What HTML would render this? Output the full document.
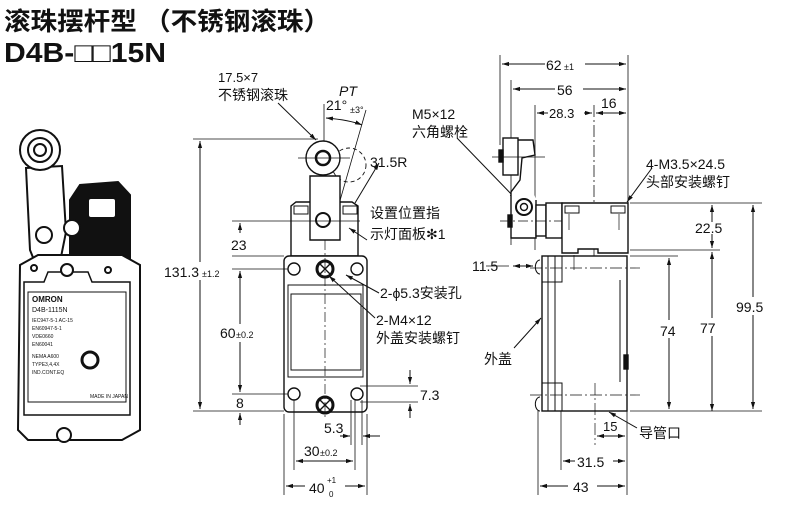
<!DOCTYPE html>
<html><head><meta charset="utf-8"><style>
html,body{margin:0;padding:0;background:#fff}
svg{display:block}
text{font-family:"Liberation Sans","Noto Sans CJK SC",sans-serif;fill:#111}
</style></head><body>
<svg width="800" height="510" viewBox="0 0 800 510" xmlns="http://www.w3.org/2000/svg">
<defs>
<marker id="a" viewBox="0 0 10 10" refX="10" refY="5" markerWidth="7" markerHeight="7" orient="auto-start-reverse"><path d="M0,2 L10,5 L0,8z" fill="#111"/></marker>
</defs>
<text x="4" y="30" font-size="25" font-weight="bold" textLength="326" lengthAdjust="spacingAndGlyphs">滚珠摆杆型 （不锈钢滚珠）</text>
<text x="4" y="62" font-size="28" font-weight="bold" textLength="162" lengthAdjust="spacingAndGlyphs">D4B-□□15N</text>

<!-- photo -->
<g stroke="#111" stroke-width="2" fill="#fff">
<path d="M70 200 L80 185 L118 182 L130 195 L130 262 L70 262 Z" fill="#111"/>
<rect x="88" y="198" width="28" height="20" rx="3"/>
<path d="M26 168 L62 166 L66 232 L60 262 L38 270 L30 250 Z"/>
<circle cx="40" cy="150" r="20"/><circle cx="40" cy="150" r="12"/><circle cx="40" cy="150" r="6"/>
<circle cx="44" cy="235" r="8"/>
<circle cx="72" cy="228" r="8"/>
<path d="M20 265 L38 255 L122 255 L140 265 L140 430 L122 440 L28 440 L18 430 Z"/>
<path d="M24 282 L44 282 L48 272 L88 272 L92 282 L130 282 L130 415 L24 415 Z" stroke-width="1.5"/>
<rect x="28" y="292" width="98" height="110" stroke-width="1"/>
<circle cx="90" cy="360" r="8" stroke-width="3"/>
<circle cx="67" cy="270" r="6"/><circle cx="34" cy="268" r="3"/><circle cx="108" cy="270" r="3"/>
<circle cx="64" cy="435" r="7"/>
</g>
<g font-size="5" fill="#111"><text x="32" y="302" font-size="8" font-weight="bold">OMRON</text><text x="32" y="312" font-size="7">D4B-1115N</text>
<text x="32" y="322">IEC947-5-1 AC-15</text><text x="32" y="330">EN60947-5-1</text><text x="32" y="338">VDE0660</text><text x="32" y="346">EN60041</text><text x="32" y="358">NEMA A600</text><text x="32" y="366">TYPE3,4,4X</text><text x="32" y="374">IND.CONT.EQ</text><text x="90" y="398">MADE IN JAPAN</text></g>

<!-- front view -->
<g stroke="#111" fill="none" stroke-width="1.4">
<text x="218" y="82" font-size="13" stroke="none">17.5×7</text>
<text x="218" y="100" font-size="14" stroke="none">不锈钢滚珠</text>
<line x1="278" y1="103" x2="316" y2="140" stroke-width="1" marker-end="url(#a)"/>
<text x="339" y="96" font-size="14" stroke="none" font-style="italic">PT</text>
<text x="326" y="110" font-size="14" stroke="none">21°</text><text x="350" y="113" font-size="9" stroke="none">±3°</text>
<path d="M326 118 Q350 120 362 125" stroke-width="1" marker-start="url(#a)" marker-end="url(#a)"/>
<line x1="324" y1="104" x2="324" y2="250" stroke-width=".8"/>
<line x1="366" y1="110" x2="333" y2="225" stroke-width=".8"/>
<circle cx="349" cy="165" r="17" stroke-dasharray="4 3" stroke-width=".9"/>
<line x1="355" y1="203" x2="379" y2="163" stroke-width="1" marker-end="url(#a)"/>
<text x="370" y="167" font-size="14" stroke="none">31.5R</text>
<path d="M296 202 L316 202 L316 237 L332 237 L332 202 L352 202 L358 206 L358 256 L291 256 L291 206 Z" fill="#fff"/>
<rect x="294" y="206" width="14" height="8" stroke-width="1"/><rect x="343" y="206" width="14" height="8" stroke-width="1"/>
<path d="M310 176 L310 240 L340 240 L340 176 Z" fill="#fff"/>
<circle cx="323" cy="158" r="17" fill="#fff"/><circle cx="323" cy="158" r="7" stroke-width="2.5"/>
<circle cx="323" cy="220" r="7" stroke-width="2"/>
<line x1="298" y1="158" x2="350" y2="158" stroke-width=".7"/>
<line x1="286" y1="221" x2="360" y2="221" stroke-width=".7"/>
<line x1="349" y1="228" x2="367" y2="240" stroke-width="1" marker-start="url(#a)"/>
<text x="370" y="218" font-size="14" stroke="none">设置位置指</text>
<text x="370" y="239" font-size="14" stroke="none">示灯面板✻1</text>
<!-- body -->
<rect x="284" y="256" width="83" height="156" rx="5" fill="#fff"/>
<path d="M288 285 L363 285 L363 377 L288 377 Z" stroke-width="1"/>
<rect x="291" y="294" width="70" height="76" stroke-width="1"/>
<circle cx="294" cy="269" r="6"/><circle cx="357" cy="269" r="6"/>
<circle cx="294" cy="394" r="6"/><circle cx="357" cy="394" r="6"/>
<circle cx="325" cy="269" r="8" stroke-width="3"/><circle cx="325" cy="405" r="8" stroke-width="3"/>
<path d="M320 264 L330 274 M330 264 L320 274 M320 400 L330 410 M330 400 L320 410"/>
<line x1="325" y1="240" x2="325" y2="420" stroke-width=".7" stroke-dasharray="10 3 2 3"/>
<line x1="346" y1="275" x2="379" y2="293" stroke-width="1" marker-start="url(#a)"/>
<text x="380" y="298" font-size="14" stroke="none">2-ϕ5.3安装孔</text>
<line x1="329" y1="276" x2="375" y2="318" stroke-width="1" marker-start="url(#a)"/>
<text x="376" y="325" font-size="14" stroke="none">2-M4×12</text>
<text x="376" y="343" font-size="14" stroke="none">外盖安装螺钉</text>
<!-- dims left -->
<line x1="193" y1="139" x2="318" y2="139" stroke-width=".8"/>
<line x1="193" y1="411" x2="284" y2="411" stroke-width=".8"/>
<line x1="200" y1="141" x2="200" y2="409" stroke-width="1" marker-start="url(#a)" marker-end="url(#a)"/>
<rect x="162" y="262" width="70" height="18" fill="#fff" stroke="none"/>
<text x="164" y="277" font-size="14" stroke="none">131.3</text><text x="202" y="277" font-size="9" stroke="none">±1.2</text>
<line x1="232" y1="221" x2="286" y2="221" stroke-width=".8"/>
<line x1="232" y1="256" x2="284" y2="256" stroke-width=".8"/>
<line x1="232" y1="269" x2="288" y2="269" stroke-width=".8"/>
<line x1="232" y1="394" x2="288" y2="394" stroke-width=".8"/>
<line x1="240" y1="233" x2="240" y2="223" stroke-width="1" marker-end="url(#a)"/>
<text x="231" y="250" font-size="14" stroke="none">23</text>
<line x1="240" y1="271" x2="240" y2="392" stroke-width="1" marker-start="url(#a)" marker-end="url(#a)"/>
<rect x="218" y="324" width="44" height="18" fill="#fff" stroke="none"/>
<text x="220" y="338" font-size="14" stroke="none">60</text><text x="236" y="338" font-size="9" stroke="none">±0.2</text>
<text x="236" y="408" font-size="14" stroke="none">8</text>
<line x1="240" y1="425" x2="240" y2="413" stroke-width="1" marker-end="url(#a)"/>
<!-- dims bottom -->
<line x1="284" y1="414" x2="284" y2="495" stroke-width=".8"/><line x1="367" y1="414" x2="367" y2="495" stroke-width=".8"/>
<line x1="294" y1="400" x2="294" y2="470" stroke-width=".8"/><line x1="355" y1="400" x2="355" y2="470" stroke-width=".8"/>
<line x1="351" y1="400" x2="351" y2="445" stroke-width=".8"/><line x1="362" y1="400" x2="362" y2="445" stroke-width=".8"/>
<line x1="296" y1="461" x2="353" y2="461" stroke-width="1" marker-start="url(#a)" marker-end="url(#a)"/>
<text x="304" y="456" font-size="14" stroke="none">30</text><text x="320" y="456" font-size="9" stroke="none">±0.2</text>
<line x1="340" y1="436" x2="350" y2="436" stroke-width="1" marker-end="url(#a)"/>
<line x1="380" y1="436" x2="363" y2="436" stroke-width="1" marker-end="url(#a)"/>
<text x="324" y="433" font-size="14" stroke="none">5.3</text>
<line x1="286" y1="486" x2="305" y2="486" stroke-width="1" marker-start="url(#a)"/>
<line x1="345" y1="486" x2="365" y2="486" stroke-width="1" marker-end="url(#a)"/>
<text x="309" y="493" font-size="14" stroke="none">40</text><text x="327" y="483" font-size="8" stroke="none">+1</text><text x="329" y="497" font-size="8" stroke="none">0</text>
<line x1="360" y1="386" x2="418" y2="386" stroke-width=".8"/><line x1="360" y1="402" x2="418" y2="402" stroke-width=".8"/>
<line x1="410" y1="370" x2="410" y2="384" stroke-width="1" marker-end="url(#a)"/>
<line x1="410" y1="418" x2="410" y2="404" stroke-width="1" marker-end="url(#a)"/>
<text x="420" y="400" font-size="14" stroke="none">7.3</text>

<!-- side view -->
<line x1="500" y1="55" x2="500" y2="145" stroke-width=".8"/>
<line x1="511" y1="80" x2="511" y2="245" stroke-width=".8"/>
<line x1="535" y1="105" x2="535" y2="250" stroke-width=".8"/>
<line x1="594" y1="105" x2="594" y2="280" stroke-width=".8" stroke-dasharray="12 3 2 3"/>
<line x1="628" y1="55" x2="628" y2="203" stroke-width=".8"/>
<line x1="502" y1="64" x2="545" y2="64" stroke-width="1" marker-start="url(#a)"/>
<line x1="585" y1="64" x2="626" y2="64" stroke-width="1" marker-end="url(#a)"/>
<text x="546" y="70" font-size="14" stroke="none">62</text><text x="564" y="70" font-size="9" stroke="none">±1</text>
<line x1="513" y1="89" x2="555" y2="89" stroke-width="1" marker-start="url(#a)"/>
<line x1="583" y1="89" x2="626" y2="89" stroke-width="1" marker-end="url(#a)"/>
<text x="557" y="95" font-size="14" stroke="none">56</text>
<line x1="537" y1="113" x2="548" y2="113" stroke-width="1" marker-start="url(#a)"/>
<line x1="584" y1="113" x2="592" y2="113" stroke-width="1" marker-end="url(#a)"/>
<text x="549" y="118" font-size="13" stroke="none">28.3</text>
<line x1="596" y1="113" x2="626" y2="113" stroke-width="1" marker-start="url(#a)" marker-end="url(#a)"/>
<text x="601" y="108" font-size="14" stroke="none">16</text>
<text x="412" y="119" font-size="14" stroke="none">M5×12</text>
<text x="412" y="137" font-size="14" stroke="none">六角螺栓</text>
<line x1="457" y1="138" x2="516" y2="199" stroke-width="1" marker-end="url(#a)"/>
<!-- lever side -->
<path d="M518 140 L533 140 L535 155 L522 158 L520 180 L511 192 L511 238 L536 238 L536 200" fill="#fff"/>
<rect x="503" y="138" width="15" height="37" fill="#fff"/>
<rect x="499" y="150" width="4" height="12" fill="#111"/>
<line x1="492" y1="157" x2="545" y2="157" stroke-width=".7"/>
<circle cx="524" cy="207" r="8" stroke-width="2"/><circle cx="524" cy="207" r="3.5"/>
<rect x="536" y="205" width="10" height="31" fill="#fff"/><rect x="546" y="203" width="16" height="35" fill="#fff"/>
<rect x="508" y="215" width="4" height="12" fill="#111"/>
<line x1="500" y1="221" x2="572" y2="221" stroke-width=".7" stroke-dasharray="10 3 2 3"/>
<path d="M562 203 L628 203 L628 253 L598 253 L598 249 L578 249 L578 253 L562 253 Z" fill="#fff"/>
<rect x="565" y="206" width="14" height="7" stroke-width="1"/><rect x="611" y="206" width="14" height="7" stroke-width="1"/>
<line x1="569" y1="214" x2="569" y2="230" stroke-width=".7"/><line x1="619" y1="214" x2="619" y2="230" stroke-width=".7"/>
<line x1="652" y1="168" x2="627" y2="202" stroke-width="1" marker-end="url(#a)"/>
<text x="646" y="169" font-size="14" stroke="none">4-M3.5×24.5</text>
<text x="646" y="187" font-size="14" stroke="none">头部安装螺钉</text>
<!-- body side -->
<rect x="542" y="256" width="85" height="155" fill="#fff"/>
<line x1="548" y1="256" x2="548" y2="411" stroke-width="1"/><line x1="555" y1="256" x2="555" y2="411" stroke-width="1"/>
<path d="M542 256 L562 256 L562 282 L542 282 M542 383 L562 383 L562 411" stroke-width="1"/>
<path d="M540 260 a4 6 0 0 0 0 14 M540 397 a4 6 0 0 0 0 14" stroke-width="1"/>
<rect x="624" y="355" width="4" height="14" fill="#111"/>
<line x1="620" y1="280" x2="620" y2="382" stroke-width="1"/>
<line x1="530" y1="268" x2="640" y2="268" stroke-width=".7" stroke-dasharray="12 3 2 3"/>
<line x1="530" y1="395" x2="640" y2="395" stroke-width=".7" stroke-dasharray="12 3 2 3"/>
<line x1="595" y1="383" x2="595" y2="445" stroke-width=".7" stroke-dasharray="12 3 2 3"/>
<line x1="574" y1="255" x2="574" y2="270" stroke-width=".7"/>
<line x1="486" y1="266" x2="509" y2="266" stroke-width=".8"/>
<line x1="513" y1="266" x2="533" y2="266" stroke-width="1" marker-start="url(#a)" marker-end="url(#a)"/>
<text x="472" y="271" font-size="14" stroke="none">11.5</text>
<text x="484" y="364" font-size="14" stroke="none">外盖</text>
<line x1="514" y1="348" x2="541" y2="318" stroke-width="1" marker-end="url(#a)"/>
<text x="639" y="438" font-size="14" stroke="none">导管口</text>
<line x1="637" y1="428" x2="609" y2="412" stroke-width="1" marker-end="url(#a)"/>
<!-- right dims -->
<line x1="630" y1="203" x2="762" y2="203" stroke-width=".8"/>
<line x1="630" y1="250" x2="720" y2="250" stroke-width=".8"/>
<line x1="630" y1="256" x2="678" y2="256" stroke-width=".8"/>
<line x1="630" y1="411" x2="762" y2="411" stroke-width=".8"/>
<line x1="712" y1="222" x2="712" y2="205" stroke-width="1" marker-end="url(#a)"/>
<line x1="712" y1="234" x2="712" y2="248" stroke-width="1" marker-end="url(#a)"/>
<line x1="712" y1="252" x2="712" y2="411" stroke-width="1" marker-start="url(#a)" marker-end="url(#a)"/>
<text x="695" y="233" font-size="14" stroke="none">22.5</text>
<line x1="669" y1="258" x2="669" y2="409" stroke-width="1" marker-start="url(#a)" marker-end="url(#a)"/>
<rect x="660" y="320" width="20" height="18" fill="#fff" stroke="none"/>
<text x="660" y="336" font-size="14" stroke="none">74</text>
<rect x="700" y="318" width="22" height="18" fill="#fff" stroke="none"/>
<text x="700" y="333" font-size="14" stroke="none">77</text>
<line x1="753" y1="205" x2="753" y2="409" stroke-width="1" marker-start="url(#a)" marker-end="url(#a)"/>
<rect x="735" y="297" width="36" height="18" fill="#fff" stroke="none"/>
<text x="736" y="312" font-size="14" stroke="none">99.5</text>
<!-- bottom dims side -->
<line x1="538" y1="411" x2="538" y2="495" stroke-width=".8"/>
<line x1="561" y1="411" x2="561" y2="470" stroke-width=".8"/>
<line x1="627" y1="411" x2="627" y2="495" stroke-width=".8"/>
<line x1="597" y1="436" x2="625" y2="436" stroke-width="1" marker-start="url(#a)" marker-end="url(#a)"/>
<text x="603" y="431" font-size="13" stroke="none">15</text>
<line x1="563" y1="461" x2="575" y2="461" stroke-width="1" marker-start="url(#a)"/>
<line x1="613" y1="461" x2="625" y2="461" stroke-width="1" marker-end="url(#a)"/>
<text x="577" y="467" font-size="14" stroke="none">31.5</text>
<line x1="540" y1="486" x2="568" y2="486" stroke-width="1" marker-start="url(#a)"/>
<line x1="597" y1="486" x2="625" y2="486" stroke-width="1" marker-end="url(#a)"/>
<text x="573" y="492" font-size="14" stroke="none">43</text>
</g>
</svg>
</body></html>
